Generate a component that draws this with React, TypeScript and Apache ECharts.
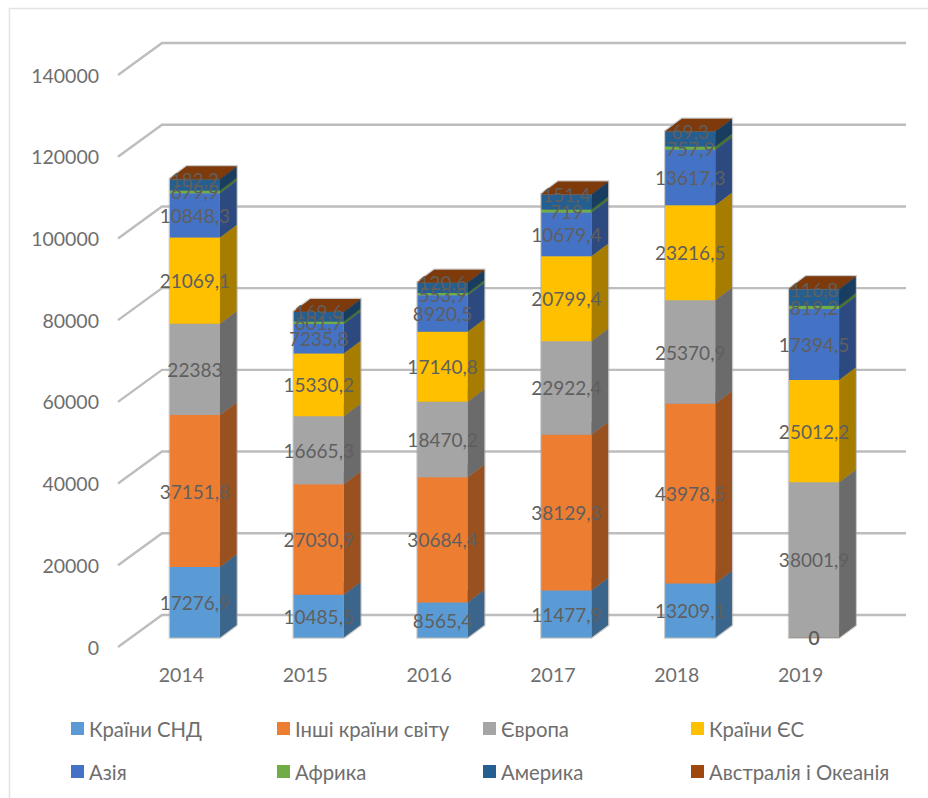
import React, { useEffect, useRef } from "react";
import * as echarts from "echarts";

const years = ["2014", "2015", "2016", "2017", "2018", "2019"];
const ticks = [0, 20000, 40000, 60000, 80000, 100000, 120000, 140000];

const cis = [17276.9, 10485.5, 8565.4, 11477.9, 13209.1, 0];
const otherWorld = [37151.8, 27030.9, 30684.4, 38129.3, 43978.5, 0];
const europe = [22383, 16665.3, 18470.2, 22922.4, 25370.9, 38001.9];
const eu = [21069.1, 15330.2, 17140.8, 20799.4, 23216.5, 25012.2];
const asia = [10848.3, 7235.8, 8920.5, 10679.4, 13617.3, 17394.5];
const africa = [679.9, 601.7, 553.9, 719, 757.9, 819.2];
const america = [2700, 2300, 2500, 3700, 3700, 4000];
const oceania = [182.2, 169.6, 120.6, 151.4, 69.3, 116.8];

const names = ["Країни СНД", "Інші країни світу", "Європа", "Країни ЄС", "Азія", "Африка", "Америка", "Австралія і Океанія"];
const colors = ["#5B9BD5", "#ED7D31", "#A5A5A5", "#FFC000", "#4472C4", "#70AD47", "#255E91", "#9E480E"];
const values = [cis, otherWorld, europe, eu, asia, africa, america, oceania];
const labelled = [true, true, true, true, true, true, false, true];

const FONT = "Lato";
const TEXT = "#6e6e6e";
const LABEL = "#5f5f5f";
const BAR_W = 50;
const BAR_DX = 16.7;
const BAR_DY = 12.5;
const FRONT_DX = 15;
const FRONT_DY = 9.5;
const WALL_DX = 44;
const WALL_DY = 32;

function shade(hex: string, f: number) {
  const n = parseInt(hex.slice(1), 16);
  const c = [(n >> 16) & 255, (n >> 8) & 255, n & 255].map((v) => Math.round(v * f));
  return `rgb(${c[0]},${c[1]},${c[2]})`;
}

function format(v: number) {
  return String(v).replace(".", ",");
}

export default function App() {
  const ref = useRef<HTMLDivElement>(null);

  useEffect(() => {
    const chart = echarts.init(ref.current!, undefined, { renderer: "svg" });

    const wallSeries = {
      type: "custom",
      silent: true,
      z: 1,
      data: ticks.map((t) => [0, t]),
      renderItem: (params: any, api: any) => {
        const y = api.coord([0, api.value(1)])[1];
        const cs = params.coordSys;
        return {
          type: "polyline",
          shape: {
            points: [
              [cs.x, y],
              [cs.x + WALL_DX, y - WALL_DY],
              [cs.x + cs.width + WALL_DX + 1, y - WALL_DY],
            ],
          },
          style: { stroke: "#bdbdbd", lineWidth: 2.4, fill: "none" },
        };
      },
    };

    const haloSeries = {
      type: "custom",
      silent: true,
      z: 1.5,
      data: years.map((_, ci) => [ci, values.reduce((sum, arr) => sum + arr[ci], 0)]),
      renderItem: (_p: any, api: any) => {
        const top = api.coord([api.value(0), api.value(1)]);
        const bottom = api.coord([api.value(0), 0]);
        const x0 = top[0] + FRONT_DX - BAR_W / 2;
        const x1 = x0 + BAR_W;
        const yT = top[1] - FRONT_DY;
        const yB = bottom[1] - FRONT_DY;
        return {
          type: "polygon",
          shape: {
            points: [
              [x0, yB],
              [x1, yB],
              [x1 + BAR_DX, yB - BAR_DY],
              [x1 + BAR_DX, yT - BAR_DY],
              [x0 + BAR_DX, yT - BAR_DY],
              [x0, yT],
            ],
          },
          style: { fill: "#bbbbbb", stroke: "rgba(160,160,160,0.55)", lineWidth: 2.5 },
        };
      },
    };

    const barSeries = names.map((name, si) => ({
      type: "custom",
      name,
      z: 2,
      itemStyle: { color: colors[si] },
      encode: { x: 0, y: 1 },
      data: years.map((_, ci) => {
        let base = 0;
        for (let k = 0; k < si; k++) base += values[k][ci];
        return [ci, base + values[si][ci], base, values[si][ci]];
      }),
      renderItem: (_p: any, api: any) => {
        const top = api.coord([api.value(0), api.value(1)]);
        const bottom = api.coord([api.value(0), api.value(2)]);
        const x0 = top[0] + FRONT_DX - BAR_W / 2;
        const x1 = x0 + BAR_W;
        const yT = top[1] - FRONT_DY;
        const yB = bottom[1] - FRONT_DY;
        const color = colors[si];
        const children: any[] = [
          {
            type: "polygon",
            z2: si,
            shape: { points: [[x1, yT], [x1 + BAR_DX, yT - BAR_DY], [x1 + BAR_DX, yB - BAR_DY], [x1, yB]] },
            style: { fill: shade(color, 0.65) },
          },
          {
            type: "polygon",
            z2: si,
            shape: { points: [[x0, yT], [x0 + BAR_DX, yT - BAR_DY], [x1 + BAR_DX, yT - BAR_DY], [x1, yT]] },
            style: { fill: shade(color, 0.8) },
          },
          {
            type: "rect",
            z2: si,
            shape: { x: x0, y: yT, width: BAR_W, height: yB - yT },
            style: { fill: color },
          },
        ];
        if (labelled[si]) {
          children.push({
            type: "text",
            z2: 100,
            style: {
              text: format(api.value(3)),
              x: (x0 + x1) / 2,
              y: (yT + yB) / 2,
              align: "center",
              verticalAlign: "middle",
              fill: LABEL,
              fontSize: 19,
              fontFamily: FONT,
            },
          });
        }
        return { type: "group", children };
      },
    }));

    const legendBase = {
      orient: "vertical",
      icon: "rect",
      itemWidth: 13,
      itemHeight: 13,
      itemGap: 23,
      top: 718.5,
      padding: 0,
      selectedMode: false,
      textStyle: { color: TEXT, fontSize: 20.3, fontFamily: FONT },
    };

    chart.setOption({
      animation: false,
      backgroundColor: "#ffffff",
      grid: { left: 118, right: 67, top: 75, bottom: 151, containLabel: false },
      xAxis: {
        type: "category",
        data: years,
        axisLine: { show: false },
        axisTick: { show: false },
        axisLabel: { color: TEXT, fontSize: 19.5, fontFamily: FONT, margin: 17, padding: [0, 0, 0, 3] },
      },
      yAxis: {
        type: "value",
        min: 0,
        max: 140000,
        interval: 20000,
        axisLine: { show: false },
        axisTick: { show: false },
        splitLine: { show: false },
        axisLabel: { color: TEXT, fontSize: 19.5, fontFamily: FONT, margin: 19, formatter: (v: number) => String(v) },
      },
      legend: [
        { ...legendBase, left: 71, data: [names[0], names[4]] },
        { ...legendBase, left: 277, data: [names[1], names[5]] },
        { ...legendBase, left: 483, data: [names[2], names[6]] },
        { ...legendBase, left: 691, data: [names[3], names[7]] },
      ],
      graphic: [
        {
          type: "rect",
          silent: true,
          z: -1,
          shape: { x: 9.5, y: 8.5, width: 1000, height: 1000 },
          style: { fill: "none", stroke: "#e3e3e3", lineWidth: 1.5 },
        },
      ],
      series: [wallSeries, haloSeries, ...barSeries],
    });

    return () => chart.dispose();
  }, []);

  return <div ref={ref} style={{ position: "absolute", left: 0, top: 0, width: 928, height: 798 }} />;
}
